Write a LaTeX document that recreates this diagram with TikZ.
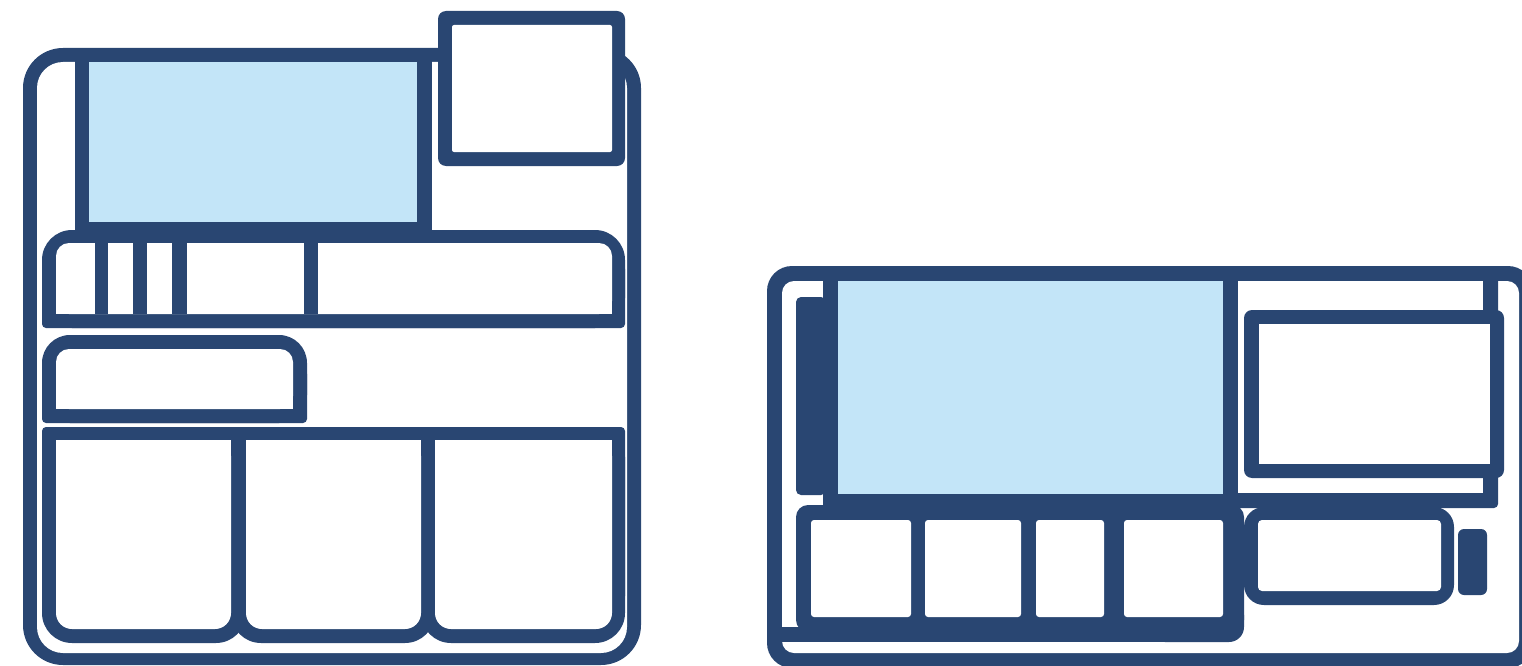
\documentclass[tikz,border=0pt]{standalone}
\definecolor{dk}{RGB}{41,70,114}
\definecolor{lb}{RGB}{195,229,248}
\begin{document}
\begin{tikzpicture}[x=1pt,y=-1pt,
  dkf/.style={fill=dk}, whf/.style={fill=white}, blf/.style={fill=lb}]
\useasboundingbox (0,0) rectangle (1522,666);
\clip (0,0) rectangle (1522,666);
% ================= LEFT DEVICE =================
% outer frame
\fill[dkf, rounded corners=40pt] (23,48) rectangle (641,665);
\fill[whf, rounded corners=26pt] (37,62) rectangle (627,653);
% monitor
\fill[dkf] (75,48) rectangle (432,232);
\fill[blf] (89,62) rectangle (417,222);
% small top-right box
\fill[dkf, rounded corners=8pt] (438,11) rectangle (625,166);
\fill[whf, rounded corners=2pt] (452,25) rectangle (612,152);
% shelf with partitions
\fill[dkf, rounded corners=30pt] (42,230) rectangle (625,328);
\fill[dkf, rounded corners=4pt] (42,265) rectangle (625,328);
\fill[whf, rounded corners=13pt] (56,243) rectangle (612,314);
\fill[whf] (56,265) rectangle (612,314);
\foreach \a/\b in {95/108,133/147,172/187,304/318}
  \fill[dkf] (\a,243) rectangle (\b,314);
% small drawer
\fill[dkf, rounded corners=28pt] (42,335) rectangle (307,423);
\fill[dkf, rounded corners=4pt] (42,370) rectangle (307,423);
\fill[whf, rounded corners=13pt] (56,349) rectangle (293,409);
\fill[whf] (56,370) rectangle (293,409);
% cabinet with three cells
\foreach \a/\b in {42/246,231/435,421/625}{
  \fill[dkf, rounded corners=30pt] (\a,427) rectangle (\b,643);
  \fill[dkf, rounded corners=4pt] (\a,427) rectangle (\b,600);
}
\foreach \a/\b in {56/231,246/421,435/612}{
  \fill[whf, rounded corners=16pt] (\a,440) rectangle (\b,629);
  \fill[whf] (\a,440) rectangle (\b,600);
}
% ================= RIGHT DEVICE =================
% outer frame
\fill[dkf, rounded corners=25pt] (767,266) rectangle (1533,668);
\fill[whf, rounded corners=12pt] (782,281) rectangle (1519,653);
% monitor
\fill[dkf] (823,266) rectangle (1238,507);
\fill[blf] (838,281) rectangle (1223,494);
% left bar
\fill[dkf, rounded corners=5pt] (796,297) rectangle (826,495);
% right compartment
\fill[dkf, rounded corners=4pt] (1231,266) rectangle (1498,508);
\fill[whf] (1238,281) rectangle (1483,493);
% box in compartment
\fill[dkf, rounded corners=8pt] (1244,310) rectangle (1504,478);
\fill[whf] (1259,324) rectangle (1490,464);
% lower-left drawer unit
\fill[dkf, rounded corners=12pt] (796,505) rectangle (1244,632);
\fill[dkf] (782,627) rectangle (1230,642);
\fill[dkf, rounded corners=15pt] (1150,600) rectangle (1244,642);
\foreach \a/\b in {811/911,925/1021,1036/1104,1124/1223}
  \fill[whf, rounded corners=3pt] (\a,520) rectangle (\b,617);
% lower-right drawer
\fill[dkf, rounded corners=20pt] (1244,507) rectangle (1454,605);
\fill[whf, rounded corners=4pt] (1258,520) rectangle (1441,591);
% pill
\fill[dkf, rounded corners=6pt] (1458,529) rectangle (1487,595);
\end{tikzpicture}
\end{document}
